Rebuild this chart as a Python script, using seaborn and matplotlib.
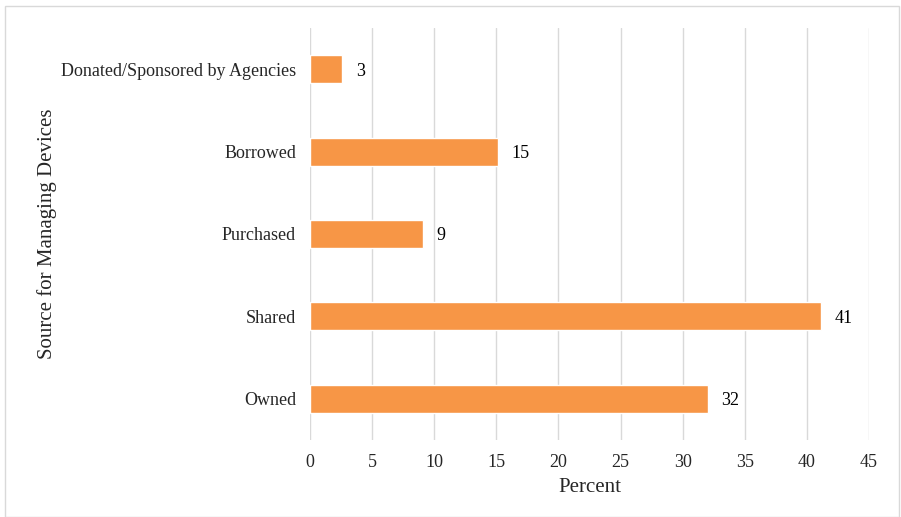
import matplotlib
matplotlib.use("Agg")
import matplotlib.pyplot as plt
import seaborn as sns
import pandas as pd

categories = ["Donated/Sponsored by Agencies", "Borrowed", "Purchased", "Shared", "Owned"]
values = [2.6, 15.1, 9.1, 41.1, 32.0]
labels = ["3", "15", "9", "41", "32"]
xticks = [0, 5, 10, 15, 20, 25, 30, 35, 40, 45]

sns.set_theme(style="white")
plt.rcParams["font.family"] = ["Liberation Serif", "DejaVu Serif"]

df = pd.DataFrame({"cat": categories, "val": values})

fig = plt.figure(figsize=(9.01, 5.17), dpi=100)
ax = fig.add_axes([310/901, 1-440/517, (869-310)/901, (440-28)/517])

sns.barplot(data=df, x="val", y="cat", order=categories, color="#F79646",
            width=0.34, saturation=1, ax=ax, zorder=3)

for i, (v, l) in enumerate(zip(values, labels)):
    ax.text(v + 1.1, i, l, va="center_baseline", ha="left", fontsize=13, color="#000000")

ax.set_xlim(0, 45)
ax.set_ylim(4.5, -0.5)
ax.set_xticks(xticks)
ax.set_xticklabels([str(t) for t in xticks], fontsize=13)
ax.tick_params(axis="y", labelsize=13, length=0, pad=10)
ax.tick_params(axis="x", length=0, pad=10)
ax.xaxis.grid(True, color="#D9D9D9", linewidth=1, zorder=0)
ax.set_axisbelow(True)
for s in ax.spines.values():
    s.set_visible(False)

ax.set_xlabel("Percent", fontsize=15, labelpad=5)
ax.set_ylabel("Source for Managing Devices", fontsize=15)
ax.yaxis.set_label_coords(-0.452, 0.5)

# figure border
fig.patches.append(plt.Rectangle((5/901, 0.0), 894/901, 1 - 6/517, transform=fig.transFigure,
                                 fill=False, edgecolor="#D9D9D9", linewidth=1))

fig.savefig("out.png", dpi=100)
